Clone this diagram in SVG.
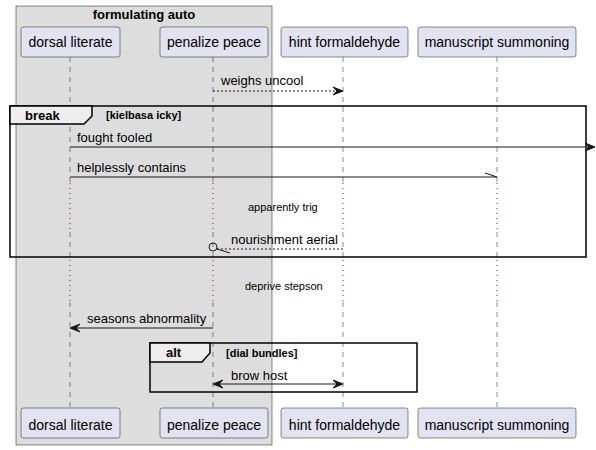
<svg xmlns="http://www.w3.org/2000/svg" width="596" height="450" viewBox="0 0 596 450">
<style>
text{font-family:"Liberation Sans",Arial,sans-serif;fill:#000}
.p{fill:#E2E2F0;stroke:#181818;stroke-width:0.5}
.pt{font-size:14px;text-anchor:middle}
.m{font-size:13px}
.sm{font-size:11px}
.b{font-weight:bold}
.life{stroke:#181818;stroke-width:0.5;stroke-dasharray:5,5;fill:none}
.delay{stroke:#A80036;stroke-width:1;stroke-dasharray:1,4;fill:none}
.msg{stroke:#181818;stroke-width:1;fill:none}
.dash{stroke-dasharray:2,2}
.frame{fill:none;stroke:#000;stroke-width:1.5}
.tab{fill:#EEEEEE;stroke:#000;stroke-width:1.5}
.head{fill:#181818;stroke:#181818;stroke-width:1}
</style>
<g id="box-formulating-auto">
<rect x="16" y="6" width="256" height="439" fill="#DDDDDD" stroke="#181818" stroke-width="0.5"/>
<text x="144" y="19" class="m b" text-anchor="middle">formulating auto</text>
</g>
<g id="lifelines">
<line class="life" x1="70" y1="57" x2="70" y2="183"/>
<line class="delay" x1="70" y1="183" x2="70" y2="232"/>
<line class="life" x1="70" y1="232" x2="70" y2="260"/>
<line class="delay" x1="70" y1="260" x2="70" y2="302"/>
<line class="life" x1="70" y1="302" x2="70" y2="408"/>
<line class="life" x1="213" y1="57" x2="213" y2="183"/>
<line class="delay" x1="213" y1="183" x2="213" y2="232"/>
<line class="life" x1="213" y1="232" x2="213" y2="260"/>
<line class="delay" x1="213" y1="260" x2="213" y2="302"/>
<line class="life" x1="213" y1="302" x2="213" y2="408"/>
<line class="life" x1="343" y1="57" x2="343" y2="183"/>
<line class="delay" x1="343" y1="183" x2="343" y2="232"/>
<line class="life" x1="343" y1="232" x2="343" y2="260"/>
<line class="delay" x1="343" y1="260" x2="343" y2="302"/>
<line class="life" x1="343" y1="302" x2="343" y2="408"/>
<line class="life" x1="497" y1="57" x2="497" y2="183"/>
<line class="delay" x1="497" y1="183" x2="497" y2="232"/>
<line class="life" x1="497" y1="232" x2="497" y2="260"/>
<line class="delay" x1="497" y1="260" x2="497" y2="302"/>
<line class="life" x1="497" y1="302" x2="497" y2="408"/>
</g>
<g id="dorsal-literate">
<rect class="p" x="21" y="27" width="99" height="30" rx="2.5"/>
<text class="pt" x="70.5" y="47">dorsal literate</text>
<rect class="p" x="21" y="408" width="99" height="30" rx="2.5"/>
<text class="pt" x="70.5" y="430">dorsal literate</text>
</g>
<g id="penalize-peace">
<rect class="p" x="160" y="27" width="108" height="30" rx="2.5"/>
<text class="pt" x="214" y="47">penalize peace</text>
<rect class="p" x="160" y="408" width="108" height="30" rx="2.5"/>
<text class="pt" x="214" y="430">penalize peace</text>
</g>
<g id="hint-formaldehyde">
<rect class="p" x="281" y="27" width="127" height="30" rx="2.5"/>
<text class="pt" x="344.5" y="47">hint formaldehyde</text>
<rect class="p" x="281" y="408" width="127" height="30" rx="2.5"/>
<text class="pt" x="344.5" y="430">hint formaldehyde</text>
</g>
<g id="manuscript-summoning">
<rect class="p" x="418" y="27" width="158" height="30" rx="2.5"/>
<text class="pt" x="497" y="47">manuscript summoning</text>
<rect class="p" x="418" y="408" width="158" height="30" rx="2.5"/>
<text class="pt" x="497" y="430">manuscript summoning</text>
</g>
<g id="frame-break">
<rect class="frame" x="10" y="106" width="576" height="151"/>
<path class="tab" d="M10,106 H92 V116 L84,124 H10 Z"/>
<text x="25" y="120" class="m b">break</text>
<text x="106" y="119" class="sm b">[kielbasa icky]</text>
</g>
<g id="frame-alt">
<rect class="frame" x="150" y="343" width="267" height="49"/>
<path class="tab" d="M150,343 H210 V353 L202,362 H150 Z"/>
<text x="166" y="357" class="m b">alt</text>
<text x="226" y="357" class="sm b">[dial bundles]</text>
</g>
<g id="connectors">
<line class="msg dash" x1="213" y1="91" x2="341" y2="91"/>
<polygon class="head" points="333,87 343,91 333,95 337,91"/>
<text class="m" x="221" y="85">weighs uncool</text>
<line class="msg" x1="70" y1="147" x2="593" y2="147"/>
<polygon class="head" points="585,143 595,147 585,151 589,147"/>
<text class="m" x="77" y="142">fought fooled</text>
<line class="msg" x1="70" y1="177" x2="497" y2="177"/>
<line class="msg" x1="497" y1="177" x2="485" y2="173"/>
<text class="m" x="77" y="172">helplessly contains</text>
<text class="sm" x="248" y="211">apparently trig</text>
<line class="msg dash" x1="217" y1="249" x2="343" y2="249"/>
<circle cx="213" cy="247" r="4" fill="none" stroke="#181818" stroke-width="1"/>
<line class="msg" x1="217" y1="249" x2="230" y2="253"/>
<text class="m" x="231" y="244">nourishment aerial</text>
<text class="sm" x="245" y="290">deprive stepson</text>
<line class="msg" x1="72" y1="328" x2="213" y2="328"/>
<polygon class="head" points="80,324 70,328 80,332 76,328"/>
<text class="m" x="87" y="323">seasons abnormality</text>
<line class="msg" x1="215" y1="384" x2="341" y2="384"/>
<polygon class="head" points="223,380 213,384 223,388 219,384"/>
<polygon class="head" points="333,380 343,384 333,388 337,384"/>
<text class="m" x="231" y="380">brow host</text>
</g>
</svg>
